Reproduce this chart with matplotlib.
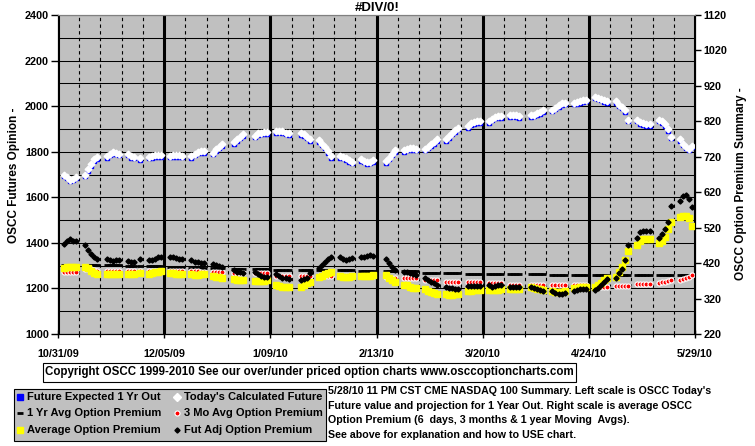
import numpy as np
import pandas as pd
import matplotlib
matplotlib.use("Agg")
import matplotlib.pyplot as plt
from matplotlib.lines import Line2D
from matplotlib.patches import Rectangle

plt.rcParams.update({"font.family": "Liberation Sans", "font.weight": "bold",
                     "font.size": 7.8})

W, H = 755, 446

# trading days 11/2/09 .. 5/28/10, market holidays taken out
holidays = ["2009-11-26", "2009-12-25", "2010-01-01", "2010-01-18",
            "2010-02-15", "2010-04-02"]
days = pd.bdate_range("2009-11-02", "2010-05-28")
days = days[~days.isin(pd.to_datetime(holidays))]

# left scale
calc_future = [1700, 1690, 1678, 1682, 1690,
               1700, 1722, 1745, 1766, 1776,
               1780, 1792, 1798, 1795, 1792,
               1792, 1780, 1778, 1772,
               1778, 1780, 1784, 1784, 1784,
               1782, 1784, 1784, 1784, 1782,
               1780, 1792, 1800, 1802, 1802,
               1795, 1810, 1822, 1832,
               1842, 1854, 1866, 1876,
               1871, 1880, 1883, 1886, 1886,
               1889, 1892, 1889, 1883, 1880,
               1880, 1876, 1866, 1854,
               1851, 1836, 1822, 1802, 1780,
               1780, 1778, 1772, 1763, 1757,
               1766, 1760, 1754, 1757, 1763,
               1759, 1773, 1792, 1807,
               1807, 1813, 1816, 1816, 1813,
               1813, 1822, 1832, 1842, 1854,
               1854, 1868, 1883, 1895, 1905,
               1912, 1924, 1930, 1934, 1933,
               1934, 1945, 1953, 1956, 1956,
               1959, 1963, 1959, 1956,
               1959, 1963, 1968, 1973, 1982,
               1985, 1993, 2003, 2012, 2015,
               2015, 2017, 2022, 2026, 2029,
               2041, 2037, 2032, 2026, 2022,
               2022, 2007, 1997, 1982, 1941,
               1941, 1930, 1924, 1920, 1920,
               1941, 1934, 1920, 1898, 1866,
               1854, 1836, 1822, 1813, 1827]
exp_future = [1693, 1683, 1671, 1675, 1683,
              1693, 1715, 1738, 1759, 1769,
              1773, 1785, 1791, 1788, 1785,
              1785, 1773, 1771, 1765,
              1771, 1773, 1777, 1777, 1777,
              1775, 1777, 1777, 1777, 1775,
              1773, 1785, 1793, 1795, 1795,
              1788, 1803, 1815, 1825,
              1835, 1847, 1859, 1869,
              1864, 1873, 1876, 1879, 1879,
              1882, 1885, 1882, 1876, 1873,
              1873, 1869, 1859, 1847,
              1844, 1829, 1815, 1795, 1773,
              1773, 1771, 1765, 1756, 1750,
              1759, 1753, 1747, 1750, 1756,
              1752, 1766, 1785, 1800,
              1800, 1806, 1809, 1809, 1806,
              1806, 1815, 1825, 1835, 1847,
              1847, 1861, 1876, 1888, 1898,
              1905, 1917, 1923, 1927, 1926,
              1927, 1938, 1946, 1949, 1949,
              1952, 1956, 1952, 1949,
              1952, 1956, 1961, 1966, 1975,
              1978, 1986, 1996, 2005, 2008,
              2008, 2010, 2015, 2019, 2022,
              2034, 2030, 2025, 2019, 2015,
              2015, 2000, 1990, 1975, 1934,
              1934, 1923, 1917, 1913, 1913,
              1934, 1927, 1913, 1891, 1859,
              1847, 1829, 1815, 1806, 1820]

# right scale
avg_1yr = [416, 416, 416, 416, 416,
           415, 415, 415, 415, 415,
           414, 414, 414, 414, 414,
           413, 413, 413, 413,
           412, 412, 412, 412, 412,
           410, 410, 410, 410, 410,
           407, 407, 407, 407, 407,
           405, 405, 405, 405,
           403, 403, 403, 403,
           403, 403, 403, 403, 403,
           401, 401, 401, 401, 401,
           401, 401, 401, 401,
           400, 400, 400, 400, 400,
           400, 400, 400, 400, 400,
           399, 399, 399, 399, 399,
           398, 398, 398, 398,
           397, 397, 397, 397, 397,
           393, 393, 393, 393, 393,
           392, 392, 392, 392, 392,
           390, 390, 390, 390, 390,
           390, 390, 390, 390, 390,
           388, 388, 388, 388,
           388, 388, 388, 388, 388,
           387, 387, 387, 387, 387,
           387, 387, 387, 387, 387,
           386, 386, 386, 386, 386,
           386, 386, 386, 386, 386,
           386, 386, 386, 386, 386,
           386, 386, 386, 386, 386,
           386, 386, 386, 386, 386]
avg_3mo = [396, 396, 395, 395, 396,
           402, 403, 402, 400, 399,
           398, 398, 397, 397, 397,
           398, 398, 398, 398,
           398, 398, 398, 398, 398,
           397, 397, 397, 397, 397,
           397, 397, 397, 396, 396,
           396, 396, 396, 395,
           393, 393, 392, 392,
           393, 392, 392, 392, 391,
           385, 384, 384, 384, 384,
           383, 383, 383, 383,
           384, 384, 384, 384, 384,
           384, 384, 384, 384, 384,
           384, 384, 384, 384, 384,
           380, 379, 379, 379,
           378, 378, 377, 377, 377,
           373, 373, 372, 372, 372,
           368, 368, 368, 368, 368,
           366, 366, 366, 366, 366,
           364, 364, 363, 363, 363,
           359, 359, 359, 359,
           359, 359, 359, 359, 359,
           359, 359, 359, 359, 359,
           359, 359, 359, 359, 359,
           354, 354, 354, 354, 354,
           356, 356, 356, 356, 356,
           360, 360, 361, 361, 361,
           363, 366, 368, 370, 372,
           373, 376, 379, 382, 387]
avg_prem = [406, 408, 409, 410, 410,
            410, 406, 398, 392, 389,
            390, 389, 389, 390, 390,
            389, 388, 389, 392,
            389, 391, 394, 396, 398,
            392, 391, 390, 389, 389,
            388, 387, 387, 388, 388,
            384, 382, 380, 379,
            374, 373, 372, 372,
            370, 370, 369, 370, 371,
            357, 355, 354, 353, 353,
            354, 359, 364, 368,
            382, 385, 389, 392, 395,
            383, 382, 382, 382, 383,
            383, 384, 384, 385, 386,
            387, 379, 373, 366,
            359, 357, 354, 351, 349,
            348, 342, 338, 335, 333,
            333, 331, 331, 333, 334,
            342, 342, 344, 345, 345,
            345, 345, 344, 345, 346,
            347, 348, 348, 347,
            352, 350, 348, 346, 344,
            340, 338, 338, 339, 340,
            349, 351, 354, 354, 354,
            354, 359, 364, 373, 378,
            382, 396, 410, 429, 455,
            472, 481, 488, 488, 488,
            476, 483, 495, 517, 537,
            551, 554, 554, 547, 526]
fut_adj = [474, 483, 487, 483, 481,
           471, 457, 445, 438, 432,
           432, 428, 426, 428, 429,
           426, 424, 423, 431,
           429, 429, 432, 436, 438,
           437, 436, 434, 432, 431,
           429, 424, 422, 420, 420,
           418, 415, 412, 408,
           401, 396, 395, 392,
           395, 389, 385, 382, 382,
           389, 383, 379, 378, 376,
           373, 376, 379, 392,
           406, 415, 424, 432, 436,
           436, 432, 430, 432, 434,
           436, 438, 441, 443, 441,
           432, 420, 410, 401,
           395, 395, 392, 389, 387,
           379, 373, 368, 364, 359,
           354, 351, 349, 348, 348,
           356, 356, 356, 356, 356,
           357, 354, 356, 357, 357,
           354, 354, 354, 354,
           354, 349, 347, 343, 340,
           342, 337, 333, 333, 337,
           342, 345, 347, 348, 348,
           345, 351, 359, 366, 376,
           379, 392, 404, 429, 472,
           492, 507, 511, 511, 511,
           492, 502, 517, 537, 580,
           596, 608, 613, 601, 577]

xtick_dates = ["2009-10-31", "2009-12-05", "2010-01-09", "2010-02-13",
               "2010-03-20", "2010-04-24", "2010-05-29"]
xtick_labels = ["10/31/09", "12/05/09", "1/09/10", "2/13/10",
                "3/20/10", "4/24/10", "5/29/10"]

fig = plt.figure(figsize=(W / 100, H / 100), dpi=100)
ax = fig.add_axes([58 / W, 1 - 334 / H, (695 - 58) / W, (334 - 15) / H])
ax.set_facecolor("#c0c0c0")
ax2 = ax.twinx()

ax.plot(days, exp_future, ls="none", marker="s", ms=3.2, color="#0000ff", zorder=3)
ax.plot(days, calc_future, ls="none", marker="D", ms=3.4, color="white", zorder=4)
ax2.plot(days, avg_1yr, ls="none", marker="_", ms=5, mew=2, color="black")
ax2.plot(days, avg_3mo, ls="none", marker="o", ms=3.6, mfc="red", mec="white", mew=0.8)
ax2.plot(days, avg_prem, ls="none", marker="s", ms=5, color="yellow")
ax2.plot(days, fut_adj, ls="none", marker="D", ms=2.6, color="black")

xt = pd.to_datetime(xtick_dates)
ax.set_xlim(xt[0], xt[-1])
ax.set_xticks(xt)
ax.set_xticklabels(xtick_labels)
ax.set_xticks(pd.date_range(xt[0], xt[-1], freq="7D"), minor=True)
ax.set_ylim(1000, 2400)
ax.set_yticks(range(1000, 2401, 200))
ax.set_yticks(range(1000, 2401, 100), minor=True)
ax2.set_ylim(220, 1120)
ax2.set_yticks(range(220, 1121, 100))

ax.set_axisbelow(True)
ax.grid(axis="y", which="both", color="black", lw=0.75)
ax.grid(axis="x", which="major", color="black", lw=2.2)
ax.grid(axis="x", which="minor", color="black", lw=0.8, ls=(0, (3, 3)))

ax.tick_params(axis="y", which="major", direction="out", length=5, width=1, pad=1.5)
ax.tick_params(axis="y", which="minor", length=0)
ax.tick_params(axis="x", which="major", direction="inout", length=6, width=1, pad=7.5)
ax.tick_params(axis="x", which="minor", direction="out", length=2.5, width=0.8)
ax2.tick_params(axis="y", direction="out", length=4, width=1, pad=2)
for a in (ax, ax2):
    a.spines["top"].set_color("#808080")
    for s in ("left", "right", "bottom"):
        a.spines[s].set_color("black")

def fx(x): return x / W
def fy(y): return 1 - y / H

fig.text(fx(377), fy(8), "#DIV/0!", ha="center", va="center", fontsize=9.5)
fig.text(fx(14), fy(175), "OSCC Futures Opinion -", rotation=90, ha="center",
         va="center", fontsize=8.5)
fig.text(fx(741), fy(184), "OSCC Option Premium Summary -", rotation=90, ha="center",
         va="center", fontsize=8.5)

# copyright box
fig.patches.append(Rectangle((fx(43), fy(382)), fx(576 - 43), (382 - 363) / H,
                             transform=fig.transFigure, fc="white", ec="black", lw=0.8))
fig.text(fx(309.5), fy(372.5),
         "Copyright OSCC 1999-2010 See our over/under priced option charts www.osccoptioncharts.com",
         ha="center", va="center", fontsize=8.3)

# legend box
fig.patches.append(Rectangle((fx(14), fy(441)), fx(326 - 14), (441 - 389) / H,
                             transform=fig.transFigure, fc="#c0c0c0", ec="black", lw=0.8))
entries = [
    (20, 396.7, "Future Expected 1 Yr Out", dict(marker="s", ms=4, color="#0000ff")),
    (20, 413.3, "1 Yr Avg Option Premium", dict(marker="_", ms=5, mew=2, color="black")),
    (20, 430, "Average Option Premium", dict(marker="s", ms=5, color="yellow")),
    (177.3, 396.7, "Today's Calculated Future", dict(marker="D", ms=4.2, color="white")),
    (177.3, 413.3, "3 Mo Avg Option Premium", dict(marker="o", ms=3.6, mfc="red", mec="white", mew=0.8)),
    (177.3, 430, "Fut Adj Option Premium", dict(marker="D", ms=2.6, color="black")),
]
for x, y, lab, st in entries:
    fig.add_artist(Line2D([fx(x)], [fy(y)], transform=fig.transFigure, ls="none", **st))
    fig.text(fx(x + 6.7), fy(y), lab, ha="left", va="center", fontsize=8.0)

notes = ["5/28/10 11 PM CST CME NASDAQ 100 Summary. Left scale is OSCC Today's",
         "Future value and projection for 1 Year Out. Right scale is average OSCC",
         "Option Premium (6  days, 3 months & 1 year Moving  Avgs).",
         "See above for explanation and how to USE chart."]
for i, t in enumerate(notes):
    fig.text(fx(328), fy(391 + i * 14.7), t, ha="left", va="center", fontsize=7.7)

fig.savefig("out.png", dpi=100)
